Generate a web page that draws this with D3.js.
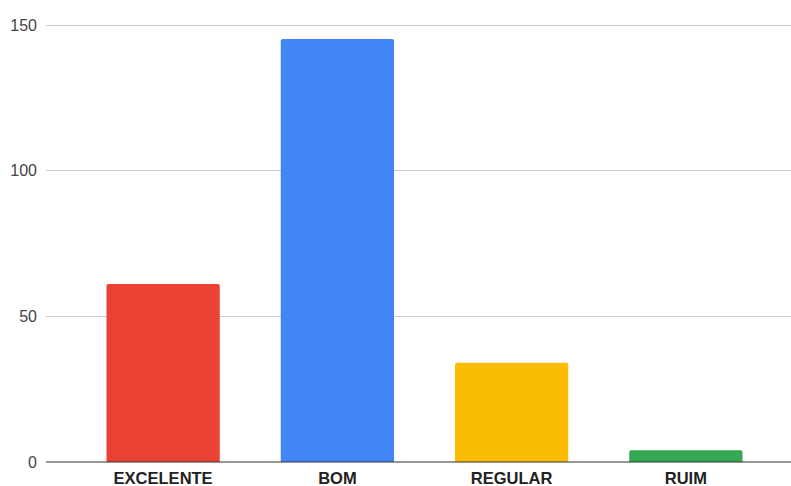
<!DOCTYPE html>
<html><head><meta charset="utf-8">
<script src="https://cdn.jsdelivr.net/npm/d3@7"></script>
<style>body{margin:0;background:#fff;}svg{display:block;font-family:"Liberation Sans", Arial, sans-serif;}</style>
</head><body>
<svg id="c" width="791" height="486"></svg>
<script>
const categories = ["EXCELENTE", "BOM", "REGULAR", "RUIM"];
const values = [61, 145, 34, 4];
const colors = ["#ea4335", "#4285f4", "#fbbc04", "#34a853"];
const yTicks = [0, 50, 100, 150];

const svg = d3.select("#c");
const y = d3.scaleLinear().domain([0, 150]).range([462, 24.5]);
const x = d3.scaleBand().domain(categories).range([76, 773]).paddingInner(0.35).paddingOuter(0.175);

svg.append("g").selectAll("line").data(yTicks.filter(d => d > 0)).join("line")
  .attr("x1", 46).attr("x2", 791)
  .attr("y1", d => Math.round(y(d)) + 0.5).attr("y2", d => Math.round(y(d)) + 0.5)
  .attr("stroke", "#cccccc").attr("stroke-width", 1);

svg.append("g").selectAll("text").data(yTicks).join("text")
  .attr("x", 37).attr("y", d => y(d) + 6)
  .attr("text-anchor", "end").attr("font-size", 16).attr("fill", "#444")
  .text(d => d);

svg.append("g").selectAll("path").data(categories).join("path")
  .attr("fill", (d, i) => colors[i])
  .attr("d", (d, i) => {
    const x0 = x(d), w = x.bandwidth(), y0 = y(values[i]), y1 = y(0), r = 2;
    return `M${x0},${y1}V${y0 + r}Q${x0},${y0} ${x0 + r},${y0}H${x0 + w - r}Q${x0 + w},${y0} ${x0 + w},${y0 + r}V${y1}Z`;
  });

svg.append("line").attr("x1", 46).attr("x2", 791).attr("y1", 462).attr("y2", 462)
  .attr("stroke", "#333").attr("stroke-width", 1.2);

svg.append("g").selectAll("text").data(categories).join("text")
  .attr("x", d => x(d) + x.bandwidth() / 2).attr("y", 484)
  .attr("text-anchor", "middle").attr("font-size", 16.5).attr("font-weight", "bold").attr("fill", "#222")
  .text(d => d);
</script>
</body></html>
